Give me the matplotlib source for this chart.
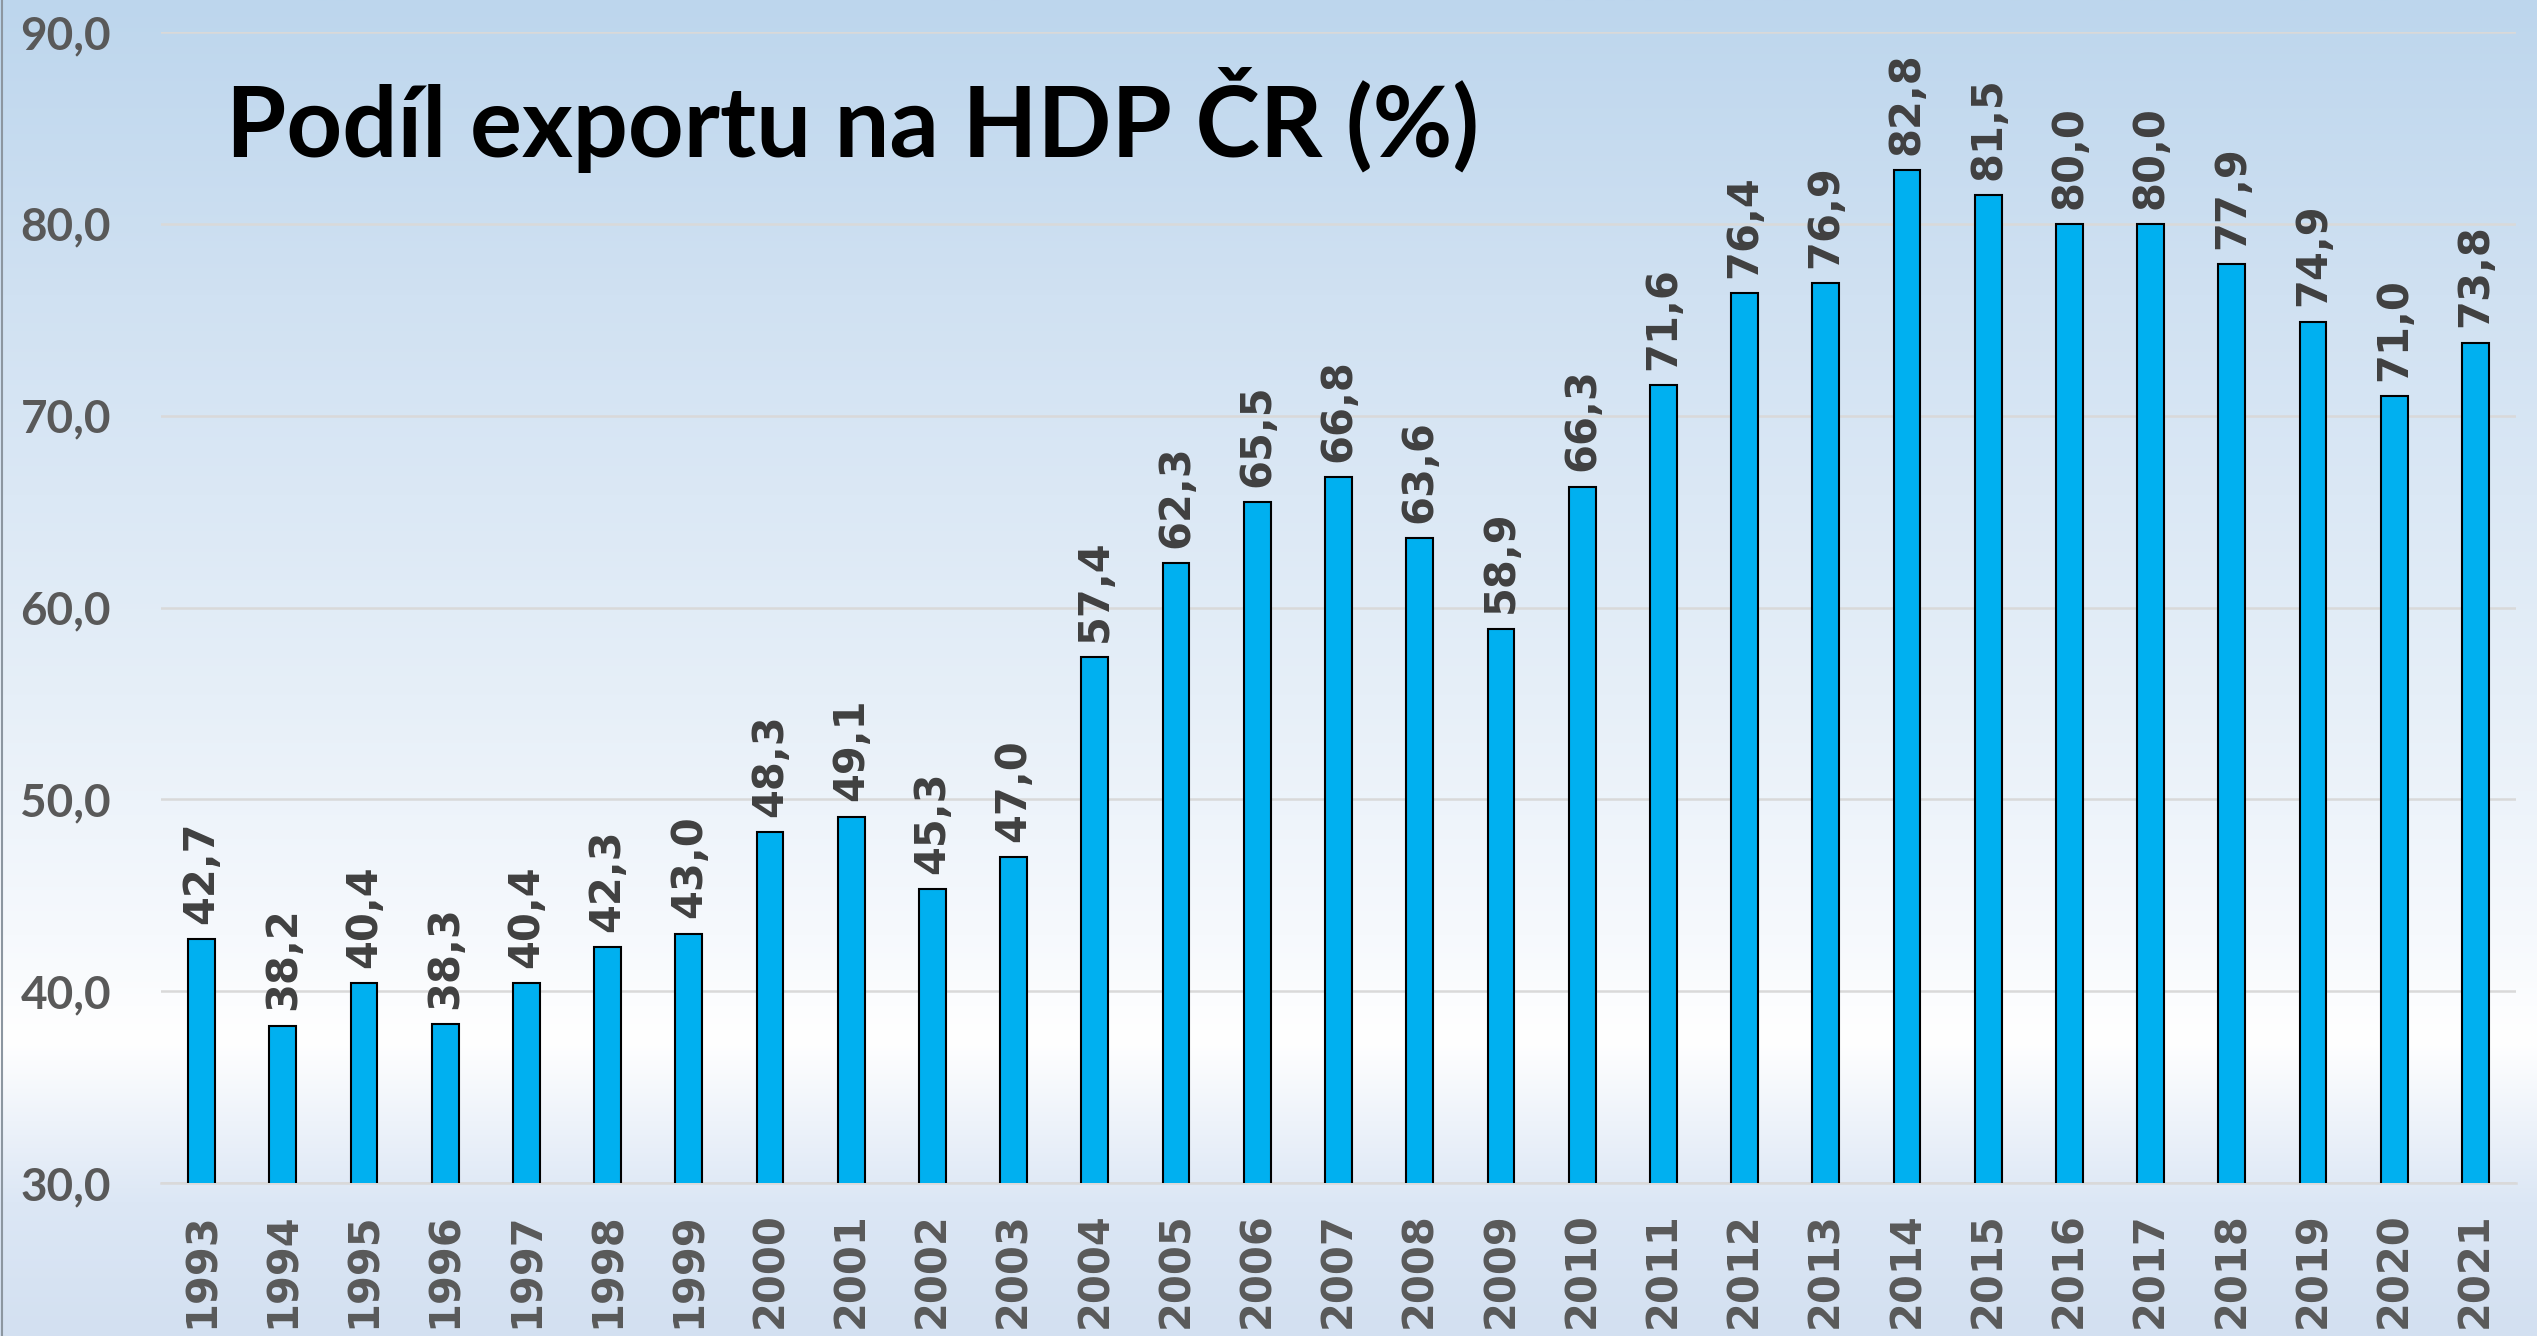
import numpy as np
import matplotlib
matplotlib.use("Agg")
import matplotlib.pyplot as plt
from matplotlib.ticker import FuncFormatter
from matplotlib.lines import Line2D

# data
years = [str(y) for y in range(1993, 2022)]
export_share = [42.7, 38.2, 40.4, 38.3, 40.4, 42.3, 43.0, 48.3, 49.1, 45.3,
                47.0, 57.4, 62.3, 65.5, 66.8, 63.6, 58.9, 66.3, 71.6, 76.4,
                76.9, 82.8, 81.5, 80.0, 80.0, 77.9, 74.9, 71.0, 73.8]
yticks = [30, 40, 50, 60, 70, 80, 90]
title = "Podíl exportu na HDP ČR (%)"

# background gradient stops (fraction from top, rgb)
bg_pos = [0.00, 0.22, 0.52, 0.70, 0.78, 0.84, 0.90, 1.00]
bg_rgb = [(189, 214, 237), (208, 225, 242), (230, 239, 248), (246, 249, 253),
          (255, 255, 255), (238, 243, 250), (220, 231, 245), (211, 224, 241)]

fig = plt.figure(figsize=(25.37, 13.36), dpi=100)

bg = fig.add_axes([0, 0, 1, 1], zorder=-10)
rows = np.linspace(0, 1, 600)
grad = np.stack([np.interp(rows, bg_pos, [c[i] for c in bg_rgb]) for i in range(3)], axis=-1) / 255.0
bg.imshow(grad[:, None, :], aspect="auto", extent=[0, 1, 0, 1], interpolation="bilinear")
bg.set_axis_off()
fig.add_artist(Line2D([0.0006, 0.0006], [0, 1], color="#8c96a0", lw=1.5))

ax = fig.add_axes([161/2537, 153/1336, (2516-161)/2537, (1183-32)/1336])
ax.set_facecolor("none")

x = np.arange(len(years))
ax.bar(x, export_share, width=0.33, bottom=0, color="#00B0F0",
       edgecolor="black", linewidth=1.5, zorder=3)

for xi, v in zip(x, export_share):
    ax.annotate(f"{v:.1f}".replace(".", ","), (xi, v), xytext=(0, 11),
                textcoords="offset points", rotation=90, ha="center", va="bottom",
                fontsize=30, fontweight="bold", color="#404040",
                family="DejaVu Sans", zorder=4)

ax.set_xlim(-0.5, len(years) - 0.5)
ax.set_ylim(30, 90)
ax.set_yticks(yticks)
ax.yaxis.set_major_formatter(FuncFormatter(lambda v, p: f"{v:.1f}".replace(".", ",")))
ax.set_xticks(x)
ax.set_xticklabels(years, rotation=90, fontsize=30, fontweight="bold",
                   color="#595959", family="DejaVu Sans")
for lab in ax.get_yticklabels():
    lab.set_fontfamily("Lato")
    lab.set_fontweight("bold")
    lab.set_fontsize(33)
    lab.set_color("#595959")

ax.tick_params(axis="y", length=0, pad=36)
ax.tick_params(axis="x", length=0, pad=21)
ax.yaxis.grid(True, color="#D9D9D9", linewidth=1.8, zorder=0)
ax.set_axisbelow(True)
for s in ["top", "right", "left"]:
    ax.spines[s].set_visible(False)
ax.spines["bottom"].set_color("#D9D9D9")
ax.spines["bottom"].set_linewidth(1.8)

fig.text(226/2537, 1 - 157/1336, title, fontsize=70, fontweight="bold",
         family="Lato", color="black", ha="left", va="baseline")

fig.savefig("out.png", dpi=100)
